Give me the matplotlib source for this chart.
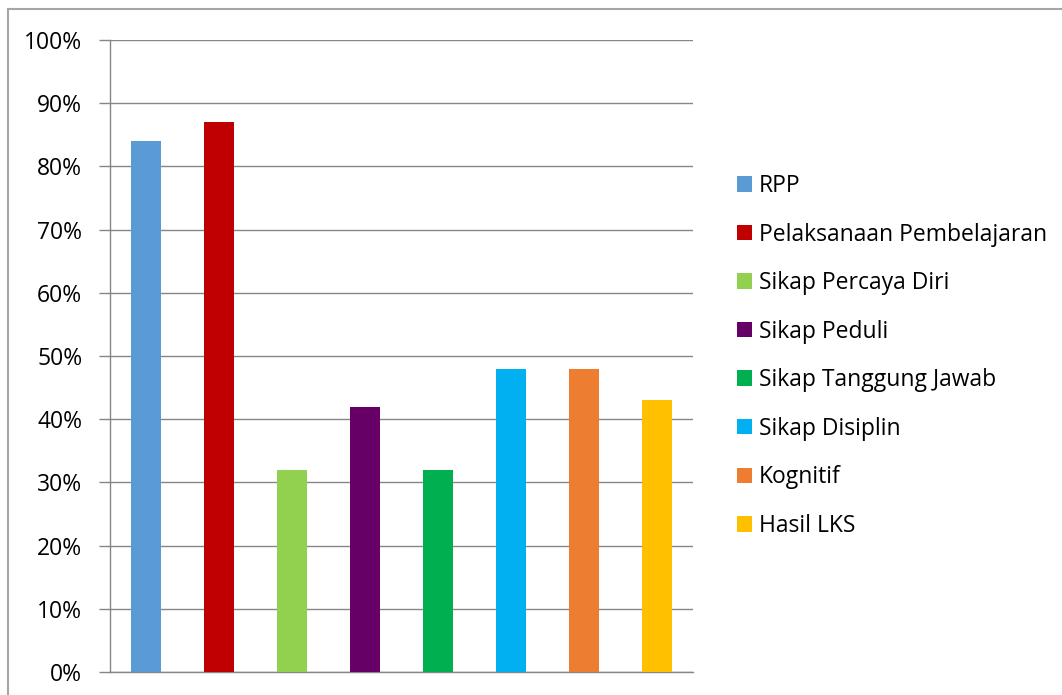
import matplotlib
matplotlib.use("Agg")
import matplotlib.pyplot as plt
from matplotlib.patches import Patch
from matplotlib.lines import Line2D

categories = ["RPP", "Pelaksanaan Pembelajaran", "Sikap Percaya Diri", "Sikap Peduli",
              "Sikap Tanggung Jawab", "Sikap Disiplin", "Kognitif", "Hasil LKS"]
values = [84, 87, 32, 42, 32, 48, 48, 43]
colors = ["#5B9BD5", "#C00000", "#92D050", "#660066", "#00B050", "#00B0F0", "#ED7D31", "#FFC000"]
yticks = [0, 10, 20, 30, 40, 50, 60, 70, 80, 90, 100]
ytick_labels = [f"{t}%" for t in yticks]

plt.rcParams['font.family'] = ['Open Sans', 'DejaVu Sans']

W, H = 1062, 695
fig = plt.figure(figsize=(W / 100, H / 100), dpi=100)
fig.patch.set_facecolor("white")

# outer frame (top and left edges visible)
fig.add_artist(Line2D([8 / W, 8 / W], [0, 1 - 9 / H], transform=fig.transFigure, color="#A6A6A6", lw=1.5))
fig.add_artist(Line2D([8 / W, 1], [1 - 9 / H, 1 - 9 / H], transform=fig.transFigure, color="#A6A6A6", lw=1.5))

left, right, top, bottom = 110, 693, 40, 672
ax = fig.add_axes([left / W, 1 - bottom / H, (right - left) / W, (bottom - top) / H])

x = list(range(len(categories)))
ax.bar(x, values, width=0.41, color=colors, zorder=3)

ax.set_xlim(-0.5, len(categories) - 0.5)
ax.set_ylim(0, 100)
ax.set_yticks(yticks)
ax.set_yticklabels(ytick_labels, fontsize=16.5)
ax.set_xticks([])
ax.grid(axis="y", color="#868686", lw=1, zorder=0)
for s in ["top", "right"]:
    ax.spines[s].set_visible(False)
for s in ["left", "bottom"]:
    ax.spines[s].set_color("#868686")
    ax.spines[s].set_linewidth(1)
ax.tick_params(axis="y", length=8, width=1, color="#868686", pad=12)

handles = [Patch(facecolor=c, edgecolor="none") for c in colors]
fig.legend(handles, categories, loc="center left", bbox_to_anchor=(737 / W, 1 - 356 / H),
           frameon=False, fontsize=16.5, handlelength=0.66, handleheight=0.66,
           handletextpad=0.28, labelspacing=1.07, borderpad=0, borderaxespad=0)

fig.savefig("out.png", dpi=100)
